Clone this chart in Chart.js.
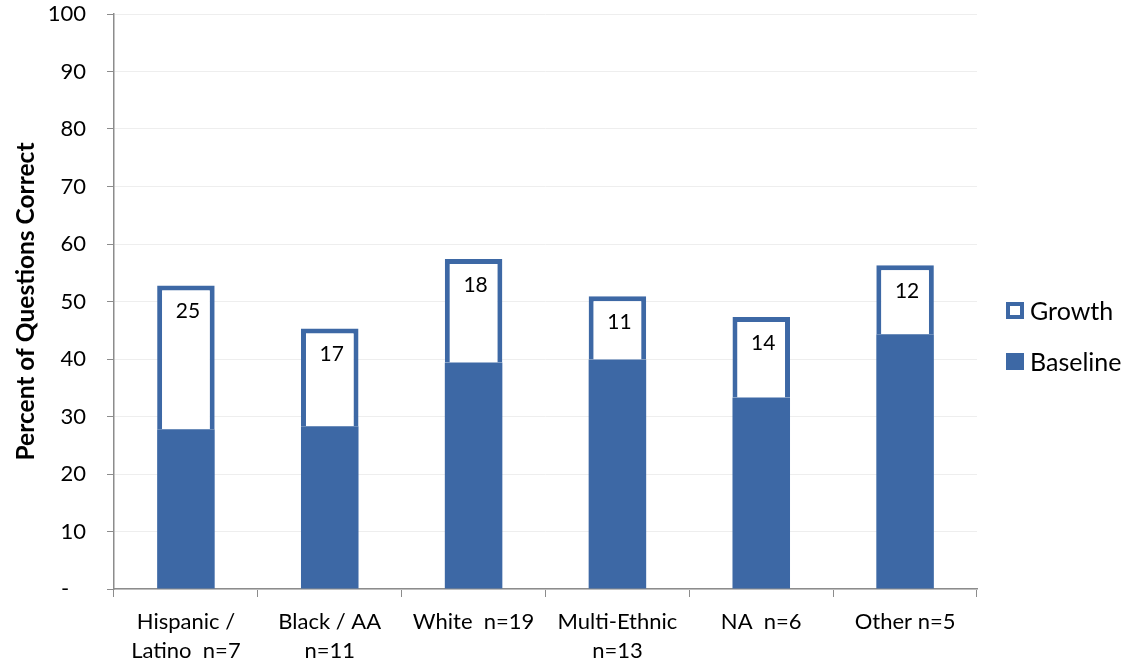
<!DOCTYPE html>
<html>
<head>
<meta charset="utf-8">
<title>Percent of Questions Correct</title>
<script src="https://cdn.jsdelivr.net/npm/chart.js@4/dist/chart.umd.min.js"></script>
<style>
  html, body { margin: 0; padding: 0; background: #ffffff; }
  canvas { display: block; }
</style>
</head>
<body>
<canvas id="chart" width="1125" height="662"></canvas>
<script>
// Groups along the x axis (multi-line labels)
const categories = [
  ['Hispanic /', 'Latino  n=7'],
  ['Black / AA', 'n=11'],
  ['White  n=19'],
  ['Multi-Ethnic', 'n=13'],
  ['NA  n=6'],
  ['Other n=5']
];
// Baseline percent correct per group
const baseline = [27.8, 28.3, 39.4, 39.9, 33.3, 44.3];
// Growth (points gained) stacked on top of the baseline
const growth = [25, 17, 18, 11, 14, 12];
// Y axis tick values
const yTicks = [0, 10, 20, 30, 40, 50, 60, 70, 80, 90, 100];

const BLUE = '#3d68a5';
const FONT = 'Lato, "Open Sans", sans-serif';

// Value labels written inside the top of each growth segment
const growthLabels = {
  id: 'growthLabels',
  afterDatasetsDraw(chart) {
    const meta = chart.getDatasetMeta(1);
    const ctx = chart.ctx;
    ctx.save();
    ctx.font = '21px ' + FONT;
    ctx.fillStyle = '#000000';
    ctx.textAlign = 'center';
    ctx.textBaseline = 'middle';
    meta.data.forEach((bar, i) => {
      ctx.fillText(String(growth[i]), bar.x + 2, bar.y + 26);
    });
    ctx.restore();
  }
};

// Legend on the right: Growth (outlined) above Baseline (filled)
const sideLegend = {
  id: 'sideLegend',
  afterDraw(chart) {
    const ctx = chart.ctx;
    const area = chart.chartArea;
    const x0 = area.right + 29;
    const yMid = (area.top + area.bottom) / 2;
    const items = [chart.data.datasets[1], chart.data.datasets[0]];
    ctx.save();
    ctx.font = '25px ' + FONT;
    ctx.textBaseline = 'middle';
    ctx.textAlign = 'left';
    items.forEach((ds, i) => {
      const cy = yMid + 9 + i * 51;
      const bw = 18, bh = 17;
      ctx.fillStyle = BLUE;
      ctx.fillRect(x0, cy - bh / 2, bw, bh);
      if (ds.backgroundColor !== BLUE) {
        ctx.fillStyle = '#ffffff';
        ctx.fillRect(x0 + 4, cy - bh / 2 + 4, bw - 8, bh - 8);
      }
      ctx.fillStyle = '#000000';
      ctx.fillText(ds.label, x0 + bw + 6, cy + 1);
    });
    ctx.restore();
  }
};

new Chart(document.getElementById('chart'), {
  type: 'bar',
  data: {
    labels: categories,
    datasets: [
      {
        label: 'Baseline',
        data: baseline,
        backgroundColor: BLUE,
        borderWidth: 0,
        barPercentage: 0.4,
        categoryPercentage: 1.0
      },
      {
        label: 'Growth',
        data: growth,
        backgroundColor: '#ffffff',
        borderColor: BLUE,
        borderWidth: 5,
        barPercentage: 0.4,
        categoryPercentage: 1.0
      }
    ]
  },
  options: {
    responsive: false,
    animation: false,
    layout: { padding: { top: 14, right: 148, bottom: 0, left: 11 } },
    plugins: {
      legend: { display: false },
      tooltip: { enabled: false }
    },
    scales: {
      x: {
        stacked: true,
        offset: true,
        afterFit(scale) {
          scale.paddingLeft = 0;
          scale.paddingRight = 0;
          scale.height = 73;
        },
        grid: {
          offset: true,
          drawOnChartArea: false,
          drawTicks: true,
          tickLength: 8,
          tickColor: '#8c8c8c'
        },
        border: { display: true, color: '#8c8c8c', width: 1.5 },
        ticks: {
          color: '#000000',
          font: { family: FONT, size: 22, lineHeight: 1.32 },
          padding: 10,
          maxRotation: 0,
          autoSkip: false
        }
      },
      y: {
        stacked: true,
        min: 0,
        max: 100,
        afterBuildTicks(scale) {
          scale.ticks = yTicks.map(v => ({ value: v }));
        },
        afterFit(scale) {
          scale.paddingTop = 8;
          scale.paddingBottom = 8;
          scale.width = 103;
        },
        grid: {
          color: '#eeeeee',
          lineWidth: 1,
          drawTicks: true,
          tickLength: 7,
          tickColor: '#8c8c8c'
        },
        border: { display: true, color: '#8c8c8c', width: 1.5 },
        ticks: {
          color: '#000000',
          font: { family: FONT, size: 22 },
          padding: 21,
          callback: v => (v === 0 ? '-   ' : String(v))
        },
        title: {
          display: true,
          text: 'Percent of Questions Correct',
          color: '#000000',
          font: { family: FONT, size: 24.5, weight: 'bold' },
          padding: { top: 0, bottom: 10 }
        }
      }
    }
  },
  plugins: [growthLabels, sideLegend]
});
</script>
</body>
</html>
